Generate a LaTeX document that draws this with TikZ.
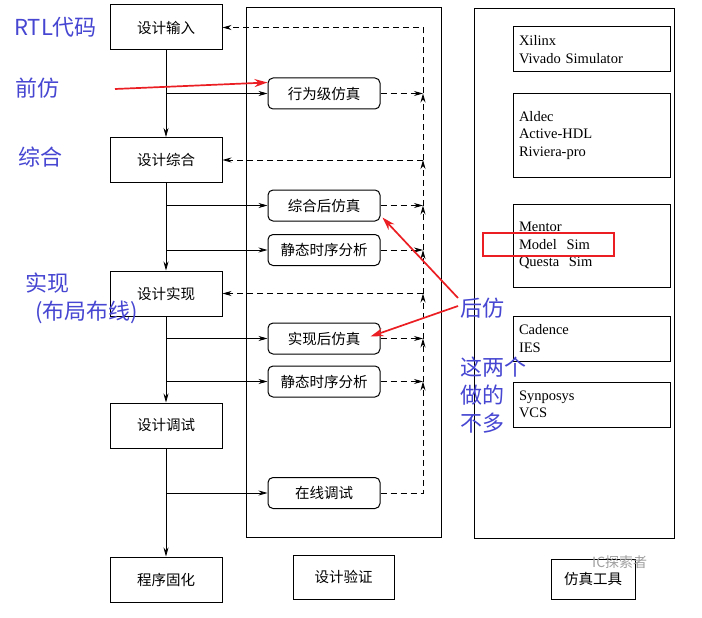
\documentclass[tikz,border=0pt]{standalone}
\usepackage{fontspec}
\setmainfont{Liberation Serif}
\newfontfamily\cjk{Noto Sans CJK SC}
\usetikzlibrary{arrows.meta, positioning, calc}
\definecolor{notecol}{RGB}{70,70,210}
\definecolor{markcol}{RGB}{235,30,35}

\begin{document}
\begin{tikzpicture}[x=1pt, y=-1pt,
  flowbox/.style={draw, line width=1pt, minimum width=112pt, minimum height=45pt,
                  inner sep=0pt, font=\cjk\fontsize{14.5}{17}\selectfont},
  simbox/.style={draw, line width=1pt, rounded corners=5pt, minimum width=112pt,
                 minimum height=31pt, inner sep=0pt, font=\cjk\fontsize{14.5}{17}\selectfont},
  toolbox/.style={draw, line width=1pt, minimum width=157pt, text width=145pt,
                  align=left, inner xsep=6pt, inner ysep=3pt,
                  font=\fontsize{14.5}{17.5}\selectfont},
  note/.style={anchor=west, inner sep=0pt, text=notecol,
               font=\cjk\fontsize{22}{28}\selectfont},
  flow/.style={line width=0.7pt, -{Stealth[length=9pt,width=5pt]}},
  fb/.style={line width=0.8pt, dash pattern=on 6pt off 4pt,
             -{Stealth[length=9pt,width=5pt]}},
  redarrow/.style={markcol, line width=1.7pt, -{Stealth[length=13pt,width=8pt]}}]
  \useasboundingbox (0,0) rectangle (702,618);
  \fill[white] (0,0) rectangle (702,618);

  % design flow
  \node[flowbox] (input) at (166,27.5)  {设计输入};
  \node[flowbox] (synth) at (166,160)   {设计综合};
  \node[flowbox] (impl)  at (166,293.5) {设计实现};
  \node[flowbox] (debug) at (166,425.5) {设计调试};
  \node[flowbox] (prog)  at (166,579.5) {程序固化};
  \foreach \a/\b in {input/synth, synth/impl, impl/debug, debug/prog}
    \draw[flow] (\a) -- (\b);

  % verification
  \draw[line width=1pt] (246,8) rectangle (441,537);
  \foreach \n/\y/\t in {beh/93.5/行为级仿真, psyn/205.5/综合后仿真, sta1/250/静态时序分析,
                         pimpl/338.5/实现后仿真, sta2/381.5/静态时序分析, online/493/在线调试}
    \node[simbox] (\n) at (324,\y) {\t};
  \foreach \a/\b in {input/beh, synth/psyn, synth/sta1, impl/pimpl, impl/sta2, debug/online}
    \draw[flow] (\a.south |- \b.west) -- (\b.west);
  \node[flowbox, minimum width=101pt, minimum height=44pt] (verify) at (343.5,577) {设计验证};

  % feedback bus
  \coordinate (bus) at (423,0);
  \foreach \n in {beh, psyn, sta1, pimpl, sta2}
    \draw[fb] (\n.east) -- (\n.east -| bus);
  \draw[fb] (online.east) -- (online.east -| bus) -- (sta2.east -| bus);
  \foreach \a/\b in {sta2/pimpl, pimpl/impl, impl/sta1, sta1/psyn, psyn/synth, synth/beh}
    \draw[fb] (\a.east -| bus) -- (\b.east -| bus);
  \draw[fb] (beh.east -| bus) -- (input.east -| bus) -- (input.east);
  \draw[fb] (synth.east -| bus) -- (synth.east);
  \draw[fb] (impl.east -| bus) -- (impl.east);

  % tools
  \draw[line width=1pt] (474,9) rectangle (674,538);
  \foreach \n/\y/\h/\t in {xil/49.5/45/{Xilinx\\Vivado Simulator},
                            ald/135.5/83/{Aldec\\Active-HDL\\Riviera-pro},
                            men/245.5/83/{Mentor\\Model~ Sim\\Questa~ Sim},
                            cad/338.5/45/{Cadence\\IES},
                            syn/404.5/45/{Synposys\\VCS}}
    \node[toolbox, minimum height=\h] (\n) at (591.5,\y) {\t};
  \node[flowbox, minimum width=84pt, minimum height=40pt] (tools) at (593,579) {仿真工具};
  \node[text=gray!75, anchor=west, inner sep=0pt,
        font=\cjk\fontsize{14}{16}\selectfont] (wmark) at (592,562) {IC探索者};

  % notes
  \node[draw=markcol, line width=1.3pt, minimum width=131pt, minimum height=23pt] (hilite)
    at (548.5,244.5) {};
  \node[note] (rtl)  at (14,27)  {RTL代码};
  \node[note] (pre)  at (15,88)  {前仿};
  \node[note] (zh)   at (18,157) {综合};
  \node[note] (sx)   at (25,283) {实现};
  \node[note] (pnr)  at (35,312) {(布局布线)};
  \node[note] (post) at (460,308) {后仿};
  \node[note, align=left] (few) at (460,395) {这两个\\做的\\不多};

  \coordinate (prestart) at (115,89);
  \draw[redarrow] (prestart) -- ([yshift=11pt]beh.west);
  \draw[redarrow] ([xshift=-2pt,yshift=10pt]post.west) -- ([xshift=2pt,yshift=4pt]psyn.south east);
  \draw[redarrow] ([xshift=-2pt,yshift=2pt]post.west) -- ([xshift=-10pt,yshift=2pt]pimpl.east);
\end{tikzpicture}
\end{document}
